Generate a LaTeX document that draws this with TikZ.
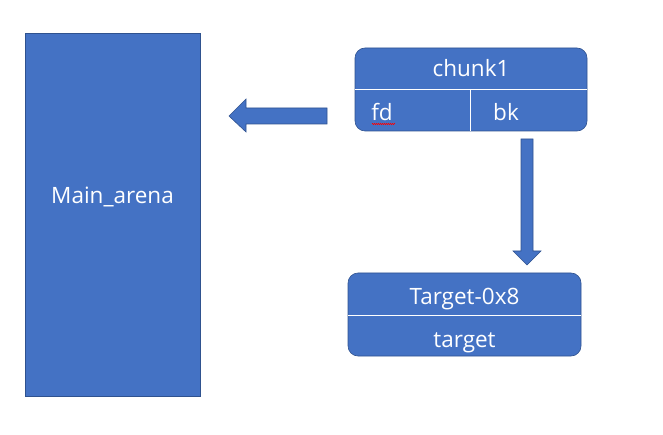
\documentclass[tikz,border=0pt]{standalone}
\usepackage{fontspec}
\setmainfont{Open Sans}
\usetikzlibrary{decorations.pathmorphing}
\definecolor{boxblue}{HTML}{4472C4}
\definecolor{boxedge}{HTML}{2F528F}
\tikzset{
  blk/.style={fill=boxblue, draw=boxedge, line width=0.6pt},
  lbl/.style={text=white, font=\fontsize{22.5}{26}\selectfont, inner sep=0pt, anchor=base},
  sep/.style={draw=white, line width=0.8pt}
}
\begin{document}
\begin{tikzpicture}[x=1pt,y=-1pt]
\useasboundingbox (0,0) rectangle (663,435);
% Main arena
\draw[blk] (25,33) rectangle (200,396);
\node[lbl] (main) at (112.5,204) {Main\_arena};
% chunk1
\draw[blk, rounded corners=10pt] (355,48) rectangle (587,131);
\draw[sep] (355,89) -- (587,89);
\draw[sep] (470,89) -- (470,131);
\node[lbl] (chunk) at (471,77) {chunk1};
\node[lbl] (fd) at (382,121) {fd};
\node[lbl] (bk) at (506,121) {bk};
\draw[red, line width=0.5pt, decorate, decoration={zigzag, amplitude=0.7pt, segment length=2pt}] (372,124) -- (395,124);
% target
\draw[blk, rounded corners=10pt] (348,273) rectangle (581,356);
\draw[sep] (348,315) -- (581,315);
\node[lbl] (tgt0) at (464.5,304) {Target-0x8};
\node[lbl] (tgt) at (464.5,347) {target};
% left arrow
\draw[blk] (327,108) -- (246,108) -- (246,99) -- (229,116) -- (246,132) -- (246,124) -- (327,124) -- cycle;
% down arrow
\draw[blk] (521,139) -- (533,139) -- (533,251) -- (541,251) -- (527,265) -- (513,251) -- (521,251) -- cycle;
\end{tikzpicture}
\end{document}
